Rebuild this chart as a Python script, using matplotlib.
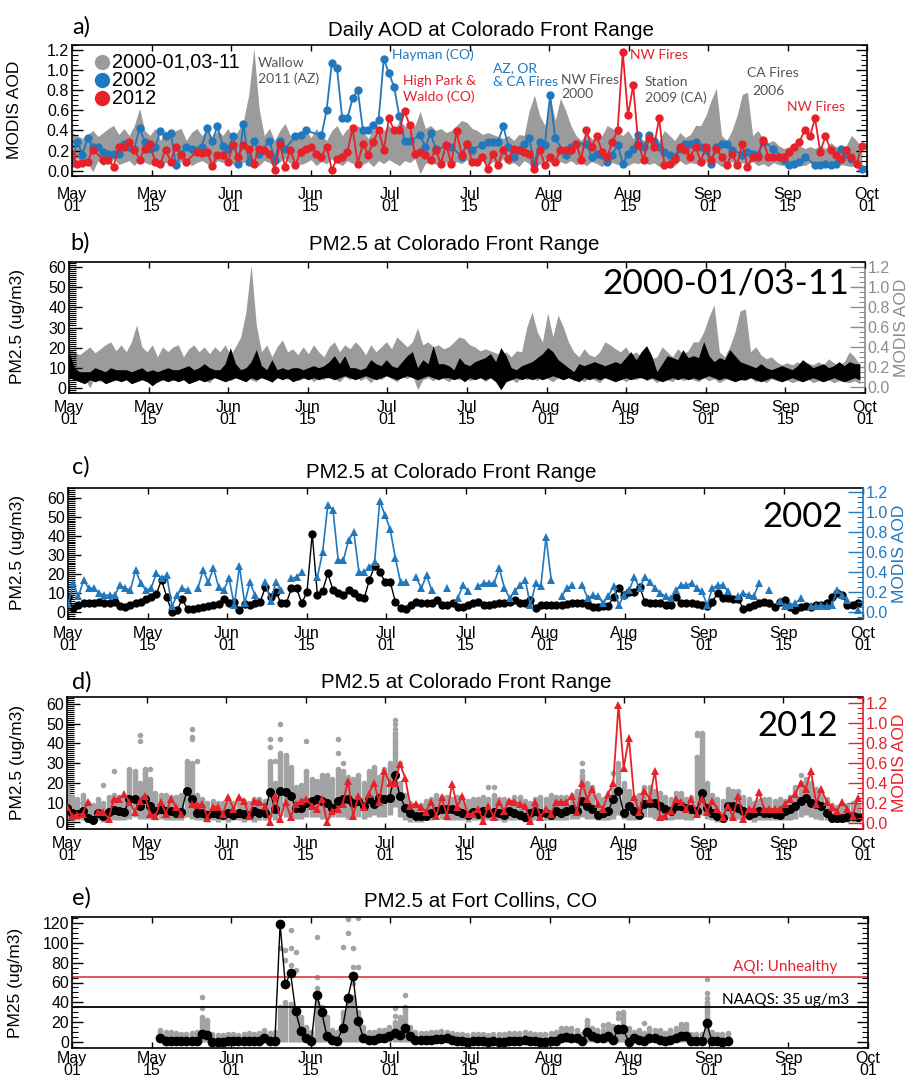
import numpy as np
import matplotlib
matplotlib.use('Agg')
import matplotlib.pyplot as plt
from matplotlib.ticker import MultipleLocator

plt.rcParams['font.family'] = ['Liberation Sans', 'DejaVu Sans']
ANNOT = ['Lato', 'DejaVu Sans']

# x axis: days since May 01, shown as 10 equal intervals up to Oct 01
n_days = 153
tick_labels = ['May\n01', 'May\n15', 'Jun\n01', 'Jun\n15', 'Jul\n01', 'Jul\n15',
               'Aug\n01', 'Aug\n15', 'Sep\n01', 'Sep\n15', 'Oct\n01']

# MODIS AOD range over 2000-01,03-11
aod_band_hi = [.38, .35, .32, .36, .40, .34, .38, .42, .45, .36,
               .42, .35, .45, .62, .40, .35, .42, .30, .40, .35,
               .40, .42, .30, .38, .42, .35, .40, .33, .40, .35,
               .42, .32, .40, .50, .75, 1.22, .62, .35, .42, .30,
               .40, .47, .35, .38, .32, .40, .33, .42, .35, .30,
               .40, .45, .35, .42, .38, .45, .40, .32, .42, .35,
               .40, .45, .38, .50, .45, .40, .45, .59, .42, .45,
               .40, .42, .38, .40, .45, .50, .48, .42, .40, .36,
               .38, .36, .34, .32, .35, .30, .36, .35, .60, .75,
               .55, .45, .74, .50, .72, .60, .45, .35, .30, .38,
               .32, .30, .35, .45, .42, .38, .35, .40, .32, .35,
               .30, .32, .28, .30, .40, .35, .30, .38, .33, .36,
               .45, .45, .55, .70, .82, .35, .30, .40, .55, .76,
               .78, .35, .40, .32, .28, .30, .25, .22, .24, .22,
               .25, .22, .24, .22, .25, .22, .28, .24, .22, .25,
               .35, .30, .22]
aod_band_lo = [.10, .12, .06, .08, -.01, .10, .05, .08, .12, .06,
               .08, .10, .05, .12, .08, .06, .10, .04, .08, .10,
               .06, .09, .12, .05, .08, .10, .07, .04, .10, .08,
               .12, .06, .09, .08, .12, .07, .05, .10, .08, .04,
               .09, .12, .07, .10, .06, .08, .11, .05, .09, .07,
               .12, .08, .05, .10, .07, .12, .06, .09, .04, .10,
               .07, .11, .08, .05, .10, .08, .12, -.03, .07, .09,
               .06, .10, .08, .05, .09, .07, .11, .06, .08, .10,
               .05, .09, .07, .12, .06, .08, .04, .10, .07, .09,
               .06, .11, .08, .05, .09, .07, .10, .06, .08, .05,
               .09, .07, .04, .10, .08, .06, .09, .05, .08, .07,
               .10, .06, .08, .04, .09, .07, .05, .10, .06, .08,
               .07, .05, .09, .06, .08, .04, .07, .09, .05, .08,
               .06, .09, .05, .07, .04, .08, .06, .05, .07, .04,
               .06, .05, .08, .04, .06, .05, .07, .04, .06, .05,
               .04, .06, .03]

aod_2002 = [.08, .29, .16, .32, .24, .24, .19, .17, .17, .17,
            .27, .24, .22, .42, .29, .22, .24, .39, .34, .37,
            .06, .17, .24, .22, None, .24, .42, .30, .44, .25,
            .22, .34, .07, .46, .09, .30, .17, None, .30, .11,
            .30, .22, None, .34, .35, .40, None, None, .35, .60,
            1.07, 1.02, .52, .52, .72, .80, .40, .40, .45, .50,
            1.11, .97, .83, .54, .30, .30, None, .35, .24, .37,
            .22, None, None, .24, None, .14, .27, .21, None, .26,
            .29, .29, .29, .44, .24, .14, .21, .27, .32, .07,
            .29, .26, .75, .32, None, .16, .24, .27, None, .27,
            .14, .17, .16, .09, .16, .26, .07, .17, .22, .35,
            .24, .35, .30, .24, .19, .16, .14, .22, .27, .27,
            .29, .24, .21, .07, .24, .27, .27, .21, None, .16,
            .19, .17, .16, .29, None, .22, None, .11, .06, .07,
            .09, .14, None, .06, .06, .07, .06, .07, .22, .17,
            .12, None, .02]
aod_2012 = [.16, .07, .08, .09, .21, None, .11, .11, .04, .24,
            .24, .29, .21, .11, .22, .27, .09, .07, .21, .09,
            .24, .16, .09, None, .19, .18, .19, .05, .16, .16,
            .09, .26, .14, .26, .22, .07, .22, .21, .17, .01,
            .27, .04, .21, .06, .19, .22, .24, .17, .14, .24,
            .01, .12, .14, .19, .42, .07, .27, .16, .29, .40,
            .21, .52, .40, .40, .59, .45, .17, .19, .16, .11,
            .21, .07, .26, .07, .39, .16, .27, .09, .09, .14,
            .02, .17, .06, .21, .12, .22, .21, .19, .17, .02,
            .21, .06, .14, .09, .21, .21, .21, .27, .11, .40,
            .24, .34, .19, .14, .29, .40, 1.18, .55, .85, .26,
            .11, .32, .24, .52, .06, .07, .12, .24, .21, .14,
            .24, .09, .24, .11, .22, .14, .06, .17, .06, .27,
            .04, .14, .14, .31, .14, .14, .14, .14, .19, .24,
            .29, .40, .34, .52, .19, .34, .21, .16, .12, .21,
            .14, .07, .25]

# PM2.5 range over 2000-01/03-11 (ug/m3)
pm_band_hi = [18, 10, 8, 8, 8, 10, 9, 8, 10, 9,
              9, 9, 8, 9, 10, 8, 9, 8, 9, 10,
              9, 9, 10, 11, 9, 10, 12, 10, 9, 9,
              12, 20, 12, 9, 10, 13, 19, 11, 9, 14,
              9, 10, 9, 10, 10, 9, 10, 11, 10, 11,
              13, 16, 12, 16, 10, 10, 9, 10, 14, 12,
              11, 14, 11, 10, 13, 16, 18, 10, 14, 12,
              21, 12, 12, 11, 9, 15, 12, 11, 13, 14,
              15, 17, 13, 20, 16, 10, 9, 11, 12, 13,
              15, 17, 20, 18, 14, 12, 10, 8, 12, 11,
              12, 13, 12, 11, 12, 13, 12, 15, 18, 14,
              18, 21, 16, 8, 12, 16, 15, 14, 19, 15,
              16, 15, 23, 16, 13, 15, 14, 19, 16, 13,
              12, 11, 10, 12, 10, 9, 10, 11, 10, 9,
              11, 14, 12, 10, 11, 12, 10, 11, 13, 11,
              13, 12, 12]
pm_band_lo = [5, 4, 3, 2, 4, 3, 4, 2, 3, 4,
              3, 4, 2, 3, 4, 3, 1, 3, 4, 3,
              4, 3, 4, 2, 3, 4, 3, 4, 5, 4,
              3, 4, 5, 4, 3, 5, 4, 5, 4, 3,
              5, 4, 5, 3, 4, 5, 4, 5, 4, 5,
              5, 4, 5, 6, 5, 4, 5, 6, 5, 4,
              5, 6, 5, 4, 5, 6, 5, 4, 5, 6,
              5, 4, 5, 5, 4, 5, 3, 5, 4, 5,
              4, 5, 3, -1, 3, 4, 5, 4, 5, 4,
              5, 4, 5, 6, 5, 4, 5, 4, 3, 5,
              4, 5, 4, 5, 4, 3, 4, 5, 4, 5,
              5, 4, 5, 4, 3, 4, 5, 4, 5, 4,
              5, 4, 5, 6, 5, 4, 5, 4, 3, 4,
              4, 5, 4, 3, 4, 5, 4, 3, 4, 5,
              4, 3, 4, 5, 4, 3, 4, 5, 4, 3,
              4, 5, 4]

pm_2002 = [8, 2, 4, 5, 5, 5, 5.5, 5, 4.7, 5.5,
           3.5, 2.6, 3.8, 5, 5.5, 6.8, 8, 9.6, 17, 8,
           0, 1.2, 6.8, 1.6, 1.7, 2, 2.6, 3.5, 3.8, 4.3,
           6.8, 4.7, 5.5, 1.2, 4.3, 3.8, 4.7, 5.5, 13.4, 8.2,
           10.8, 4.7, 4.7, 12.5, 12.5, 4.7, 10.8, 41, 9, 11.3,
           20.3, 11.7, 10, 9, 11.7, 10.3, 8.2, 7.3, 16.9, 24.2,
           21.2, 16, 16, 5.5, 2, 1.7, 3.8, 5.5, 5, 4.7,
           4.7, 6.4, 3.8, 3.8,
           4.7, 3, 2.6, 3.8, 4.7, 5.5, 3.8, 3.8, 4.3, 4.7,
           5, 5.5, 6.4, 4.7, 5, 6.4, 2, 3.8, 3.8, 3.8,
           3.8, 3.8, 4.2, 4.7, 5, 4.7, 3.8, 3, 3, 3.5,
           3.5, 8.2, 12.5, 9, 10.8, 10.8, 13.4, 5.5, 4.7, 4.7,
           4.7, 3.8, 3.8, 8.2, 4.7, 5, 4.7, 4.3, 3.8, 3.5,
           5.5, 10, 7.3, 7.3, 6.8, 6.8, 1.6, 2.6, 3.8, 4.7,
           5.5, 4.7, 2.6, 5.5, 6.4, 3, 1, 3, 3.5, 3,
           3.8, 3.8, 4.7, 8.2, 10, 9, 3.8, 3.8, 5]

pm_2012 = [7.5, 4.9, 4.5, 5.7, 2.3, 1.4, 4.9, 3.1, 5.2, 6.2,
           5.7, 5.2, 11.8, 12.1, 8.3, 11.8, 8.3, 5.7, 6.6, 5.7,
           5.7, 4.9, 5.2, 16, 11.8, 4.9, 4.9, 4, 4.9, 4.5,
           4, 4.9, 4, 4.9, 4.5, 4, 5.7, 4.9, 4.9, 15.3,
           6.6, 16, 15.3, 13.5, 7.5, 7.5, 10, 11, 11.8, 11,
           10, 7.5, 11, 11.8, 11.8, 10, 11, 8.3, 11.8, 9.2,
           12.6, 11.8, 12.6, 24, 13.5, 7.5, 4.9, 3.1, 3.1, 3.5,
           4.9, 5.7, 6.6, 6.6,
           6.6, 5.7, 4.9, 4, 5.2, 4.5, 5.7, 4.9, 5.2, 4.9,
           4, 5.7, 4.9, 4, 3, 4.9, 5.7, 4.9, 4.9, 4,
           5.7, 4.9, 5.7, 6.6, 5.7, 11, 8.3, 6.6, 4, 4.9,
           5.7, 11.8, 16, 4.9, 8.3, 5.7, 4, 9.2, 10, 10,
           8.3, 6.6, 5.7, 8.3, 8.3, 7.5, 6.6, 5.7, 15, 7.5,
           4.9, 3.1, 2.3, 8.3, 8.3, 7.5, 5.7, 4, 4.9, 5.7,
           4.9, 4.9, 4.5, 4, 5.7, 6.6, 8.3, 11, 12.6, 10,
           9.2, 8.3, 4.9, 2.3, 2.3, 2.3, 2.8, 3.1, 2.8]

# 2012 hourly site values: daily spread plus isolated high readings
pm_2012_hr_hi = [18, 13, 12, 14, 10, 9, 12, 10, 13, 14,
                 13, 13, 27, 26, 20, 27, 22, 15, 14, 14,
                 13, 13, 14, 31, 30, 14, 12, 10, 11, 10,
                 10, 11, 10, 12, 11, 10, 12, 12, 11, 31,
                 20, 35, 34, 28, 18, 19, 26, 22, 21, 24,
                 24, 22, 27, 26, 23, 22, 24, 20, 26, 28,
                 23, 27, 30, 45, 20, 14, 10, 9, 9, 11,
                 12, 14, 13, 13, 12, 13, 11, 11, 12, 12,
                 13, 12, 14, 12, 12, 11, 13, 13, 11, 10,
                 12, 13, 12, 14, 13, 13, 13, 14, 16, 24,
                 20, 18, 14, 12, 13, 17, 30, 20, 16, 13,
                 14, 18, 18, 16, 15, 13, 12, 15, 15, 12,
                 13, 33, 45, 20, 14, 12, 11, 17, 16, 16,
                 13, 12, 10, 11, 12, 12, 11, 12, 11, 13,
                 18, 20, 22, 20, 17, 14, 12, 9, 8, 8,
                 9, 10, 9]
pm_2012_hr_lo = [2, 1, 1, 1, 0, 0, 1, 0, 1, 1,
                 1, 1, 2, 3, 2, 2, 2, 1, 2, 1,
                 1, 1, 1, 3, 2, 1, 1, 0, 1, 0,
                 1, 0, 1, 1, 0, 1, 0, 1, 1, 3,
                 1, 4, 3, 3, 2, 2, 3, 3, 3, 2,
                 2, 3, 3, 3, 2, 3, 3, 2, 3, 4,
                 3, 3, 4, 8, 3, 1, 0, 0, 0, 1,
                 1, 2, 2, 1, 1, 1, 1, 0, 1, 1,
                 1, 1, 1, 1, 0, 1, 1, 1, 0, 0,
                 1, 1, 1, 1, 1, 1, 1, 2, 2, 3,
                 2, 2, 1, 1, 1, 2, 4, 2, 1, 1,
                 2, 3, 3, 2, 2, 1, 1, 2, 2, 1,
                 1, 3, 4, 2, 1, 0, 0, 2, 2, 2,
                 1, 1, 0, 1, 1, 1, 1, 1, 1, 1,
                 2, 3, 4, 3, 2, 1, 1, 0, 0, 0,
                 0, 0, 0]
pm_2012_out_day = [7, 9, 14, 14, 15, 16, 24, 24, 24, 25, 39, 39, 40, 41, 41, 42, 42, 46, 52, 52,
                   53, 63, 63, 63, 63, 63, 64, 81, 82, 99, 99, 105, 106, 121, 121, 121, 121, 122, 122, 141]
pm_2012_out_val = [19, 26, 44, 41, 25, 27, 47, 43, 42, 31, 42, 38, 31, 50, 42, 33, 30, 41, 42, 35,
                   30, 52, 50, 47, 40, 35, 30, 18, 18, 30, 26, 25, 28, 45, 44, 33, 29, 35, 30, 24]

# Fort Collins, CO: daily PM2.5 from May 18 on
fc_first_day = 17
fc_pm = [4, .7, .7, .7, .7, .7, .7, .7, 8.4, 7.4,
         0, .5, .5, .8, .8, .8, .8, .8, .7, .7,
         4, .7, .7, 119, 58, 69.6, 31, 10.8, 4, .7,
         47.7, 30, 5.7, 1.7, .7, 14, 44, 67, 21.5, 4,
         1.7, 2.4, 4, 4, 5.7, 9, 7.4, 14, 5.7, 2.4,
         1.7, 2.4, 2.4, 3.4, 3.4, 4, 2.4, .7, .7, 0,
         .7, .7, .7, 0, .7, 0, 0, .7, .7, .7,
         1.7, .7, .7, 0, 0, .7, .7, 4, 5, 4,
         4, .7, 9.7, 5.7, 4, 4, 5.7, 2.4, 13, 13,
         0, 4, 2.4, .7, 4, 4, 2.4, .7, 2.4, 4,
         5.7, 6.4, .7, .7, .7, 19, .7, .7, 0, .7]
fc_hr_hi = [12, 10, 10, 9, 8, 8, 9, 10, 25, 22,
            8, 7, 7, 8, 8, 7, 8, 9, 8, 9,
            12, 9, 10, 35, 40, 38, 30, 25, 15, 10,
            40, 35, 25, 12, 10, 30, 40, 45, 30, 15,
            10, 10, 12, 12, 15, 20, 25, 35, 15, 10,
            9, 9, 10, 10, 11, 10, 9, 8, 8, 7,
            8, 8, 8, 7, 8, 8, 8, 9, 9, 9,
            10, 9, 8, 8, 8, 9, 10, 14, 14, 14,
            12, 8, 22, 14, 12, 12, 18, 16, 12, 30,
            14, 10, 12, 9, 14, 12, 12, 9, 12, 14,
            18, 18, 8, 8, 8, 40, 10, 8, 8, 9]
fc_out_day = [25, 25, 25, 40, 41, 41, 42, 42, 42, 43, 43, 47, 47, 47, 47, 52, 53, 53, 54,
              54, 54, 55, 55, 62, 62, 64, 64, 64, 99, 102, 105, 105, 110, 122, 122, 122, 122, 122]
fc_out_val = [45, 34, 21, 95, 93, 83, 78, 113, 95, 91, 73, 54, 106, 66, 36, 96, 124, 110, 95,
              76, 59, 76, 125, 26, 34, 47, 33, 24, 16, 17, 29, 24, 19, 64, 49, 44, 36, 31]

naaqs = 35
aqi_unhealthy = 65.5

BLUE = '#2278bd'
RED = '#e6212a'
GRAY = '#9b9b9b'
CLOUD = '#a3a3a3'
DGRAY = '#555555'

days = np.arange(n_days)
def arr(v):
    return np.array(v, dtype=float)

W, H = 911, 1082
fig = plt.figure(figsize=(W / 100, H / 100), dpi=100)

boxes = {'a': (72, 867, 45, 176), 'b': (69, 865, 262, 393), 'c': (68, 863, 488, 619),
         'd': (67, 863, 697, 829), 'e': (72, 868, 917, 1048)}

def make_axes(key):
    l, r, t, b = boxes[key]
    return fig.add_axes([l / W, 1 - b / H, (r - l) / W, (b - t) / H])

def frac(key, px, py):
    l, r, t, b = boxes[key]
    return (px - l) / (r - l), (b - py) / (b - t)

def ftext(px, py, s, **kw):
    fig.text(px / W, 1 - py / H, s, **kw)

def style_x(ax, pad=5):
    ax.set_xlim(0, n_days)
    ax.set_xticks(np.linspace(0, n_days, 11))
    ax.set_xticklabels(tick_labels, fontsize=11.5, linespacing=0.72)
    ax.tick_params(axis='x', direction='in', top=True, length=4, width=1, pad=pad)
    for s in ax.spines.values():
        s.set_linewidth(1.2)

def style_left(ax, ylim, major, minor, mlen, nlen, mirror):
    ax.set_ylim(*ylim)
    ax.yaxis.set_major_locator(MultipleLocator(major))
    ax.yaxis.set_minor_locator(MultipleLocator(minor))
    ax.tick_params(axis='y', which='major', direction='in', length=mlen, width=1,
                   labelsize=11.5, pad=2, right=mirror)
    ax.tick_params(axis='y', which='minor', direction='in', length=nlen, width=0.8,
                   right=mirror)

def add_right(ax, color):
    ax2 = ax.twinx()
    ax2.set_xlim(0, n_days)
    ax2.yaxis.set_major_locator(MultipleLocator(0.2))
    ax2.yaxis.set_minor_locator(MultipleLocator(0.05))
    ax2.yaxis.set_major_formatter(matplotlib.ticker.FormatStrFormatter('%.1f'))
    ax2.tick_params(axis='y', which='major', direction='in', length=11, width=1,
                    colors=color, labelsize=11.5, pad=2)
    ax2.tick_params(axis='y', which='minor', direction='in', length=4, width=0.8, colors=color)
    for side in ['left', 'top', 'bottom']:
        ax2.spines[side].set_visible(False)
    ax2.spines['right'].set_color(color)
    ax2.spines['right'].set_linewidth(1.2)
    ax.spines['right'].set_visible(False)
    ax2.set_ylabel('MODIS AOD', color=color, fontsize=12.5, labelpad=3)
    return ax2

# ---------------- a) daily AOD ----------------
ax = make_axes('a')
ax.fill_between(days, arr(aod_band_lo), arr(aod_band_hi), color=GRAY, lw=0)
for series, col in [(aod_2002, BLUE), (aod_2012, RED)]:
    y = arr(series)
    ok = ~np.isnan(y)
    ax.plot(days[ok], y[ok], '-o', color=col, ms=6, lw=1.3, mew=0)
style_x(ax, pad=8)
style_left(ax, (-0.053, 1.25), 0.2, 0.05, 8, 4, True)
ax.yaxis.set_major_formatter(matplotlib.ticker.FormatStrFormatter('%.1f'))
ax.set_ylabel('MODIS AOD', fontsize=12.5)
ax.yaxis.set_label_coords(*frac('a', 22, 110))

legend_rows = [('2000-01,03-11', GRAY), ('2002', BLUE), ('2012', RED)]
for i, (lab, col) in enumerate(legend_rows):
    fx, fy = frac('a', 102, 62 + 18 * i)
    ax.plot([fx], [fy], 'o', color=col, ms=11, mew=0, transform=ax.transAxes)
    fx, fy = frac('a', 112, 62 + 18 * i)
    ax.text(fx, fy, lab, transform=ax.transAxes, fontsize=14.3, va='center', ha='left')

notes = [(258, 71, 'Wallow\n2011 (AZ)', DGRAY), (392, 55, 'Hayman (CO)', BLUE),
         (403, 89, 'High Park &\nWaldo (CO)', RED), (493, 75, 'AZ, OR\n& CA Fires', BLUE),
         (561, 87, 'NW Fires\n2000', DGRAY), (630, 55, 'NW Fires', RED),
         (645, 90, 'Station\n2009 (CA)', DGRAY), (747, 73, 'CA Fires', DGRAY),
         (752, 91, '2006', DGRAY), (787, 107, 'NW Fires', RED)]
for px, py, s, col in notes:
    fx, fy = frac('a', px, py)
    ax.text(fx, fy, s, transform=ax.transAxes, color=col, fontsize=10, family=ANNOT,
            va='center', ha='left', linespacing=1.25)

ftext(72, 27, 'a)', fontsize=17, family=ANNOT, va='center')
ftext(491, 30, 'Daily AOD at Colorado Front Range', fontsize=14.8, ha='center', va='center')

# ---------------- b) PM2.5 climatology ----------------
ax = make_axes('b')
ax2 = add_right(ax, '#8c8c8c')
ax.set_zorder(ax2.get_zorder() + 1)
ax.patch.set_visible(False)
ax2.fill_between(days, arr(aod_band_lo), arr(aod_band_hi), color=GRAY, lw=0)
ax2.set_ylim(-0.063, 1.25)
ax.fill_between(days, arr(pm_band_lo), arr(pm_band_hi), color='black', lw=0)
style_x(ax)
style_left(ax, (-2.6, 62.6), 10, 1, 9, 5, False)
ax.set_ylabel('PM2.5 (ug/m3)', fontsize=12.5)
ax.yaxis.set_label_coords(*frac('b', 25, 327))
ax.text(*frac('b', 849, 283), '2000-01/03-11', transform=ax.transAxes, fontsize=25.5,
        family=ANNOT, ha='right', va='center')
ftext(70, 243, 'b)', fontsize=17, family=ANNOT, va='center')
ftext(454, 245, 'PM2.5 at Colorado Front Range', fontsize=14.8, ha='center', va='center')

# ---------------- c) 2002 ----------------
ax = make_axes('c')
ax2 = add_right(ax, BLUE)
ax2.plot(days, arr(aod_2002), '-^', color=BLUE, ms=6, lw=1.2, mew=0)
ax2.set_ylim(-0.067, 1.24)
ax.plot(days, arr(pm_2002), '-o', color='black', ms=6, lw=1, mew=0)
style_x(ax)
style_left(ax, (-3.5, 65), 10, 1, 9, 5, False)
ax.set_ylabel('PM2.5 (ug/m3)', fontsize=12.5)
ax.yaxis.set_label_coords(*frac('c', 25, 553))
ax.text(*frac('c', 843, 517), '2002', transform=ax.transAxes, fontsize=25,
        family=ANNOT, ha='right', va='center')
ftext(72, 467, 'c)', fontsize=17, family=ANNOT, va='center')
ftext(451, 472, 'PM2.5 at Colorado Front Range', fontsize=14.8, ha='center', va='center')

# ---------------- d) 2012 ----------------
ax = make_axes('d')
ax2 = add_right(ax, RED)
ax.vlines(days, arr(pm_2012_hr_lo), arr(pm_2012_hr_hi), color=CLOUD, lw=3.9)
ax.plot(days, arr(pm_2012_hr_hi), 'o', color=CLOUD, ms=4, mew=0)
ax.plot(pm_2012_out_day, pm_2012_out_val, 'o', color=CLOUD, ms=4, mew=0)
ax.plot(days, arr(pm_2012), '-o', color='black', ms=6.5, lw=1, mew=0)
ax2.plot(days, arr(aod_2012), '-^', color=RED, ms=6, lw=1.3, mew=0)
ax2.set_ylim(-0.063, 1.26)
style_x(ax)
style_left(ax, (-3.3, 63.4), 10, 1, 9, 5, False)
ax.set_ylabel('PM2.5 (ug/m3)', fontsize=12.5)
ax.yaxis.set_label_coords(*frac('d', 25, 763))
ax.text(*frac('d', 838, 726), '2012', transform=ax.transAxes, fontsize=25,
        family=ANNOT, ha='right', va='center')
ftext(72, 682, 'd)', fontsize=17, family=ANNOT, va='center')
ftext(466, 683, 'PM2.5 at Colorado Front Range', fontsize=14.8, ha='center', va='center')

# ---------------- e) Fort Collins ----------------
ax = make_axes('e')
fc_days = np.arange(fc_first_day, fc_first_day + len(fc_pm))
ax.vlines(fc_days, 0, arr(fc_hr_hi), color=CLOUD, lw=3.9)
ax.plot(fc_days, arr(fc_hr_hi), 'o', color=CLOUD, ms=4, mew=0)
ax.plot(fc_out_day, fc_out_val, 'o', color=CLOUD, ms=4, mew=0)
ax.axhline(aqi_unhealthy, color='#e8454a', lw=1.3)
ax.axhline(naaqs, color='black', lw=1.3)
ax.plot(fc_days, arr(fc_pm), '-o', color='black', ms=7, lw=1, mew=0)
style_x(ax, pad=2.5)
style_left(ax, (-6, 126), 20, 5, 8, 4, True)
ax.set_ylabel('PM25 (ug/m3)', fontsize=12.5)
ax.yaxis.set_label_coords(*frac('e', 23, 983))
ax.text(*frac('e', 837, 967), 'AQI: Unhealthy', transform=ax.transAxes, fontsize=11,
        family=ANNOT, color=RED, ha='right', va='center')
ax.text(*frac('e', 849, 1000), 'NAAQS: 35 ug/m3', transform=ax.transAxes, fontsize=11,
        family=ANNOT, color='black', ha='right', va='center')
ftext(72, 898, 'e)', fontsize=17, family=ANNOT, va='center')
ftext(481, 901, 'PM2.5 at Fort Collins, CO', fontsize=14.8, ha='center', va='center')

fig.savefig('out.png', dpi=100)
